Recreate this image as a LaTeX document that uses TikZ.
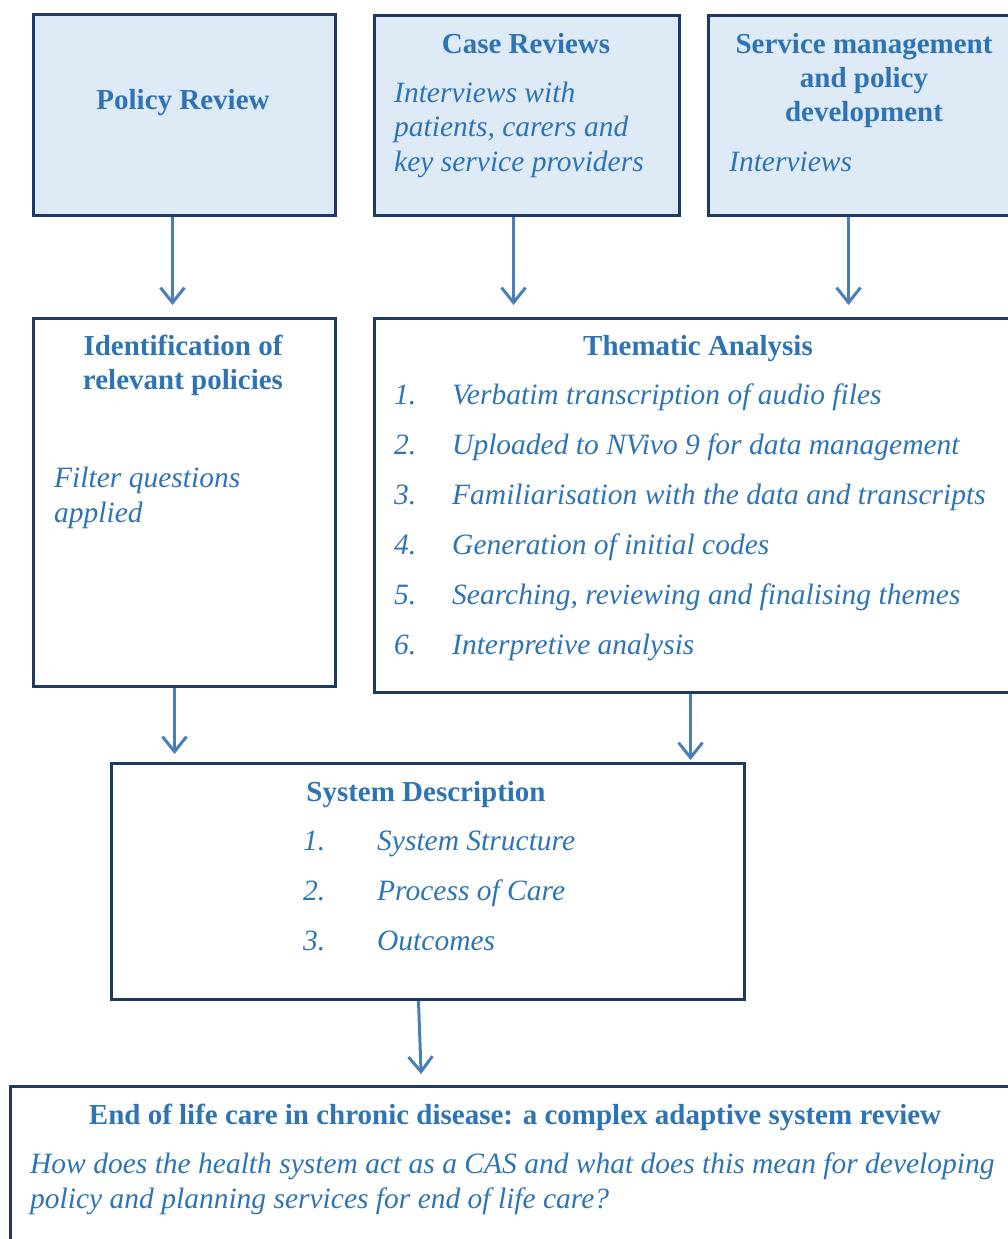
\documentclass[tikz,border=0pt]{standalone}
\usepackage{fontspec}
\setmainfont{Liberation Serif}
\usetikzlibrary{arrows.meta}
\definecolor{boxline}{HTML}{1F3864}
\definecolor{boxfill}{HTML}{DEEAF6}
\definecolor{txtblue}{HTML}{2E74B5}
\definecolor{arrblue}{HTML}{4A7EBB}

\begin{document}
\begin{tikzpicture}[x=1pt, y=-1pt,
    box/.style={draw=boxline, line width=3pt, anchor=north west, inner sep=0pt},
    hbox/.style={box, fill=boxfill},
    head/.style={font=\bfseries\fontsize{29}{33.5}\selectfont, text=txtblue, align=center, anchor=base, inner sep=0pt},
    body/.style={font=\itshape\fontsize{29.5}{34.5}\selectfont, text=txtblue, align=left, anchor=base west, inner sep=0pt},
    flow/.style={draw=arrblue, line width=3pt, -{Straight Barb[length=15pt,width=24pt]}}]
    \useasboundingbox (0,0) rectangle (1008,1239);

    % Sources
    \node[hbox, minimum width=302pt, minimum height=201pt] (policy) at (32,13) {};
    \node[hbox, minimum width=305pt, minimum height=200pt] (cases) at (373,14) {};
    \node[hbox, minimum width=320pt, minimum height=200pt] (service) at (707,14) {};

    \node[head] (policytxt) at (183,109) {Policy Review};
    \node[head] (casestxt) at (526,53) {Case Reviews};
    \node[body] (casesnote) at (394,171) {Interviews with\\patients, carers and\\key service providers};
    \node[head] (servicetxt) at (864,121) {Service management\\and policy\\development};
    \node[body] (servicenote) at (729,171) {Interviews};

    % Analysis
    \node[box, minimum width=302pt, minimum height=368pt] (ident) at (32,317) {};
    \node[box, minimum width=650pt, minimum height=374pt] (thematic) at (373,317) {};

    \node[head] (identtxt) at (183,389) {Identification of\\relevant policies};
    \node[body] (identnote) at (54,522) {Filter questions\\applied};
    \node[head] (thematictxt) at (698,355) {Thematic Analysis};
    \node[body] (th1) at (394,404) {\makebox[58pt][l]{1.}Verbatim transcription of audio files};
    \node[body] (th2) at (394,454) {\makebox[58pt][l]{2.}Uploaded to NVivo 9 for data management};
    \node[body] (th3) at (394,504) {\makebox[58pt][l]{3.}Familiarisation with the data and transcripts};
    \node[body] (th4) at (394,554) {\makebox[58pt][l]{4.}Generation of initial codes};
    \node[body] (th5) at (394,604) {\makebox[58pt][l]{5.}Searching, reviewing and finalising themes};
    \node[body] (th6) at (394,654) {\makebox[58pt][l]{6.}Interpretive analysis};

    % System description
    \node[box, minimum width=633pt, minimum height=236pt] (system) at (110,762) {};
    \node[head] (systemtxt) at (426,801) {System Description};
    \node[body] (sy1) at (303,850) {\makebox[74pt][l]{1.}System Structure};
    \node[body] (sy2) at (303,900) {\makebox[74pt][l]{2.}Process of Care};
    \node[body] (sy3) at (303,950) {\makebox[74pt][l]{3.}Outcomes};

    % Review
    \node[box, minimum width=1020pt, minimum height=200pt] (review) at (9,1085) {};
    \node[head] (reviewtxt) at (515,1124) {End of life care in chronic disease: a complex adaptive system review};
    \node[body] (reviewnote) at (30,1208) {How does the health system act as a CAS and what does this mean for developing\\policy and planning services for end of life care?};

    % Arrows
    \draw[flow, shorten >=12pt] ([xshift=-12pt]policy.south) -- ([xshift=-12pt]policy.south |- ident.north);
    \draw[flow, shorten >=12pt] ([xshift=-13.5pt]cases.south) -- ([xshift=-13.5pt]cases.south |- thematic.north);
    \draw[flow, shorten >=12pt] ([xshift=-20pt]service.south) -- ([xshift=-20pt]service.south |- thematic.north);
    \draw[flow, shorten >=8pt] ([xshift=-10pt]ident.south) -- ([xshift=-10pt]ident.south |- system.north);
    \draw[flow, shorten >=2pt] ([xshift=-9pt]thematic.south) -- ([xshift=-9pt]thematic.south |- system.north);
    \draw[flow, shorten >=11pt] ([xshift=-9.5pt]system.south) -- ([xshift=-99pt]review.north);
\end{tikzpicture}
\end{document}
